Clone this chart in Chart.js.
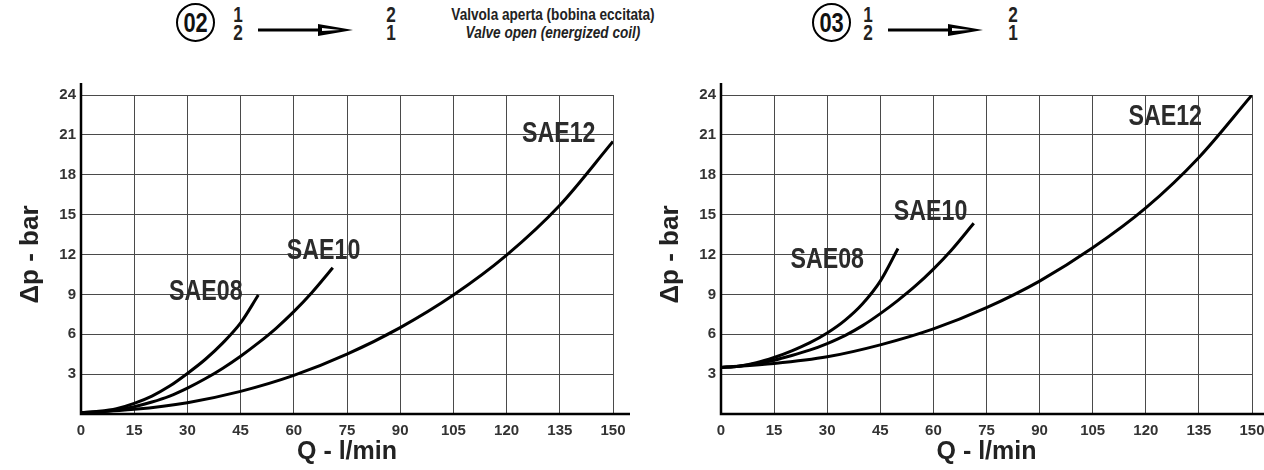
<!DOCTYPE html>
<html>
<head>
<meta charset="utf-8">
<title>Δp - Q</title>
<script src="https://cdn.jsdelivr.net/npm/chart.js@4.4.1/dist/chart.umd.min.js"></script>
<style>
  body{margin:0;background:#fff;width:1264px;height:470px;overflow:hidden;position:relative;
       font-family:"Liberation Sans",Arial,sans-serif;color:#111;}
  .chart-box{position:absolute;top:80px;height:390px;}
  #box02{left:0;width:640px;}
  #box03{left:640px;width:640px;}
  .code{position:absolute;width:35px;height:35px;border:2px solid #000;border-radius:50%;
        font-weight:bold;font-size:28px;line-height:36px;text-align:center;}
  .code span,.ports span{display:inline-block;transform:scaleX(0.78);}
  .ports{position:absolute;font-weight:bold;font-size:22px;line-height:18px;text-align:center;width:16px;color:#222;}
  .arrow{position:absolute;}
  .note{position:absolute;left:403px;width:300px;text-align:center;font-weight:bold;font-size:17px;line-height:18px;
        white-space:nowrap;transform:scaleX(0.8);color:#222;}
  .note i{display:block;}
</style>
</head>
<body>

<div class="code" style="left:176px;top:3px;"><span>02</span></div>
<div class="ports" style="left:230px;top:6px;"><span>1</span><br><span>2</span></div>
<svg class="arrow" style="left:256px;top:20px;" width="100" height="20">
  <line x1="2" y1="10" x2="70" y2="10" stroke="#000" stroke-width="3"/>
  <polygon points="62,4 97,10 62,16" fill="#000"/>
  <polygon points="66,8 84,10 66,11" fill="#fff"/>
</svg>
<div class="ports" style="left:383px;top:6px;"><span>2</span><br><span>1</span></div>

<div class="note" style="top:6px;">Valvola aperta (bobina eccitata)<i>Valve open (energized coil)</i></div>

<div class="code" style="left:812px;top:3px;"><span>03</span></div>
<div class="ports" style="left:860px;top:6px;"><span>1</span><br><span>2</span></div>
<svg class="arrow" style="left:886px;top:20px;" width="100" height="20">
  <line x1="2" y1="10" x2="70" y2="10" stroke="#000" stroke-width="3"/>
  <polygon points="62,4 97,10 62,16" fill="#000"/>
  <polygon points="66,8 84,10 66,11" fill="#fff"/>
</svg>
<div class="ports" style="left:1005px;top:6px;"><span>2</span><br><span>1</span></div>

<div class="chart-box" id="box02"><canvas id="c02"></canvas></div>
<div class="chart-box" id="box03"><canvas id="c03"></canvas></div>

<script>
/* ---- values ---- */
const qMax = 150, qStep = 15;
const dpMax = 24, dpStep = 3;

// 02 : valve open, 1 -> 2 / 2 -> 1
const q02_08  = [0, 5, 10, 15, 20, 25, 30, 35, 40, 45, 50];
const dp02_08 = [0.1, 0.2, 0.4, 0.8, 1.35, 2.1, 3.05, 4.1, 5.35, 6.85, 8.95];
const q02_10  = [0, 5, 10, 15, 20, 25, 30, 35, 40, 45, 50, 55, 60, 65, 71];
const dp02_10 = [0.1, 0.15, 0.3, 0.55, 0.9, 1.35, 1.95, 2.65, 3.45, 4.35, 5.35, 6.45, 7.7, 9.1, 11.0];
const q02_12  = [0, 15, 30, 45, 60, 75, 90, 105, 120, 135, 150];
const dp02_12 = [0.1, 0.35, 0.85, 1.7, 2.9, 4.5, 6.5, 8.95, 11.95, 15.7, 20.5];

// 03 : valve open, 1 -> 2 / 2 -> 1
const q03_08  = [0, 5, 10, 15, 20, 25, 30, 35, 40, 45, 50];
const dp03_08 = [3.5, 3.6, 3.85, 4.25, 4.75, 5.35, 6.1, 7.05, 8.3, 10.0, 12.45];
const q03_10  = [0, 5, 10, 15, 20, 25, 30, 35, 40, 45, 50, 55, 60, 65, 71.4];
const dp03_10 = [3.5, 3.6, 3.8, 4.05, 4.4, 4.8, 5.3, 5.9, 6.65, 7.55, 8.55, 9.65, 10.9, 12.3, 14.35];
const q03_12  = [0, 15, 30, 45, 60, 75, 90, 105, 120, 135, 150];
const dp03_12 = [3.5, 3.8, 4.3, 5.2, 6.4, 8.0, 10.0, 12.5, 15.5, 19.3, 24.0];

// curve names and where they are written (Q, Δp)
const names   = ['SAE08', 'SAE10', 'SAE12'];
const tags02  = [[35.2, 9.2], [68.4, 12.3], [134.7, 21.1]];
const tags03  = [[30.0, 11.55], [59.2, 15.2], [125.5, 22.35]];

const FONT = '"Liberation Sans",Arial,sans-serif';

function pts(xs, ys){ return xs.map((x,i) => ({x, y: ys[i]})); }

// thick axis lines running a bit past the grid + curve names
const decor = {
  id: 'decor',
  afterDatasetsDraw(chart, args, opts){
    const {ctx, scales:{x, y}} = chart;
    const x0 = x.getPixelForValue(0), y0 = y.getPixelForValue(0);
    ctx.save();
    ctx.strokeStyle = '#000'; ctx.lineWidth = 2.5;
    ctx.beginPath();
    ctx.moveTo(x0, y.getPixelForValue(dpMax) - 12); ctx.lineTo(x0, y0);
    ctx.lineTo(x.getPixelForValue(qMax) + opts.over, y0);
    ctx.stroke();
    ctx.fillStyle = '#2b2b2b';
    ctx.font = 'bold 29px ' + FONT;
    ctx.textAlign = 'center'; ctx.textBaseline = 'middle';
    opts.tags.forEach((t, i) => {
      ctx.save();
      ctx.translate(x.getPixelForValue(t[0]), y.getPixelForValue(t[1]));
      ctx.scale(0.8, 1);
      ctx.fillText(names[i], 0, 0);
      ctx.restore();
    });
    ctx.restore();
  }
};

function makeChart(id, series, tags, padRight, over){
  return new Chart(document.getElementById(id), {
    type: 'line',
    data: {
      datasets: series.map(s => ({
        data: s, borderColor: '#000', borderWidth: 3, pointRadius: 0,
        fill: false, cubicInterpolationMode: 'monotone'
      }))
    },
    options: {
      responsive: true, maintainAspectRatio: false, animation: false,
      layout: { padding: { top: 15, right: padRight, left: 0, bottom: 0 } },
      plugins: { legend: { display: false }, tooltip: { enabled: false }, decor: { tags, over } },
      scales: {
        x: {
          type: 'linear', min: 0, max: qMax,
          border: { display: false },
          grid: { color: '#4a4a4a', lineWidth: 1, drawTicks: false },
          ticks: { stepSize: qStep, padding: 8, color: '#333', font: { family: FONT, weight: 'bold', size: 15 } },
          title: { display: true, text: 'Q - l/min', color: '#222', padding: { top: 0, bottom: 3 },
                   font: { family: FONT, weight: 'bold', size: 25 } },
          afterFit: sc => { sc.height = 56; }
        },
        y: {
          min: 0, max: dpMax,
          border: { display: false },
          grid: { color: '#4a4a4a', lineWidth: 1, drawTicks: false },
          ticks: { stepSize: dpStep, padding: 5, color: '#333', font: { family: FONT, weight: 'bold', size: 15 },
                   callback: v => v === 0 ? '' : v },
          title: { display: true, text: 'Δp - bar', color: '#222', padding: { top: 15, bottom: 0 },
                   font: { family: FONT, weight: 'bold', size: 26 } },
          afterFit: sc => { sc.width = 81; }
        }
      }
    },
    plugins: [decor]
  });
}

makeChart('c02', [pts(q02_08, dp02_08), pts(q02_10, dp02_10), pts(q02_12, dp02_12)], tags02, 27, 17);
makeChart('c03', [pts(q03_08, dp03_08), pts(q03_10, dp03_10), pts(q03_12, dp03_12)], tags03, 28, 14);
</script>
</body>
</html>
